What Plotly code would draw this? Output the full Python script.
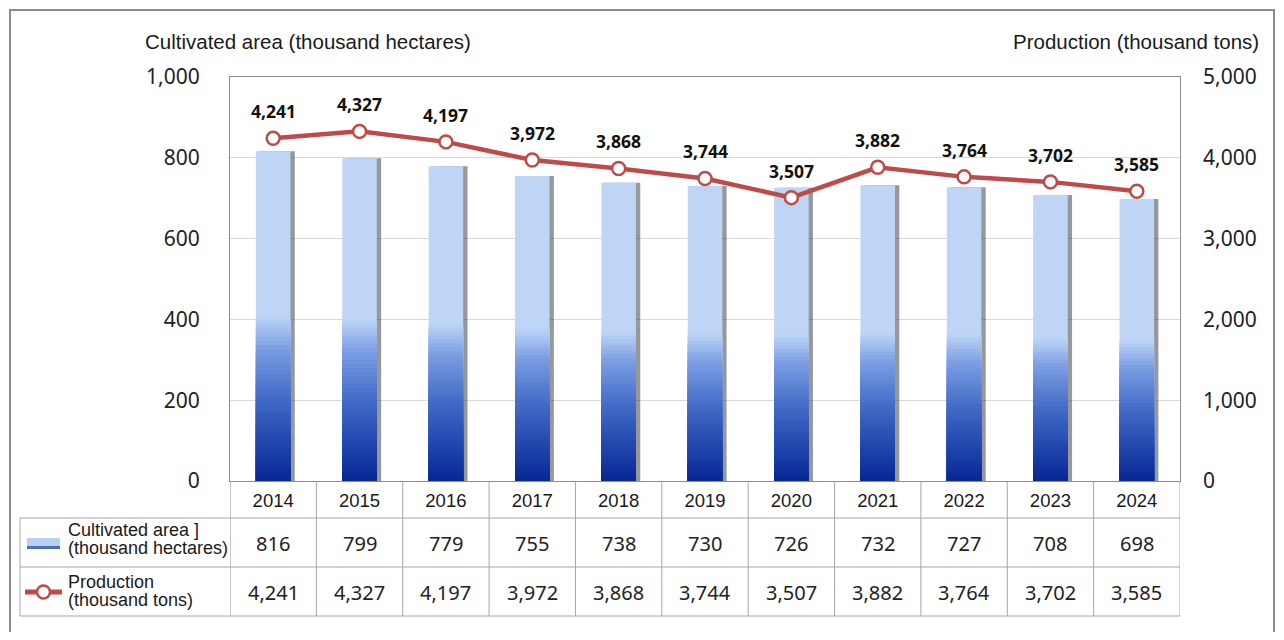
import plotly.graph_objects as go

# ---------------- data ----------------
years = ["2014", "2015", "2016", "2017", "2018", "2019", "2020", "2021", "2022", "2023", "2024"]
area = [816, 799, 779, 755, 738, 730, 726, 732, 727, 708, 698]              # thousand hectares
production = [4241, 4327, 4197, 3972, 3868, 3744, 3507, 3882, 3764, 3702, 3585]  # thousand tons
left_ticks = [0, 200, 400, 600, 800, 1000]
right_ticks = [0, 1000, 2000, 3000, 4000, 5000]
area_name = ["Cultivated area ]", "(thousand hectares)"]
prod_name = ["Production", "(thousand tons)"]
left_title = "Cultivated area (thousand hectares)"
right_title = "Production (thousand tons)"

# ---------------- layout geometry (page pixels) ----------------
OFF = 8                      # body margin of the written page
W, H = 1268, 624
L, R, T, B = 230, 1180, 77, 481


def px(x):
    return (x - L) / (R - L)


def py(y):
    return (B - y) / (B - T)


RED = "#be4b48"
GRID = "#d9d9d9"
FRAME = "#8c8c8c"
TABLE = "#a6a6a6"
NUMFONT = "Noto Sans"
TXTFONT = "Liberation Sans"

idx = list(range(len(years)))

fig = go.Figure()

BAR_W = 0.40
# soft shadow on the right of every bar
fig.add_trace(go.Bar(x=idx, y=area, width=BAR_W, offset=-BAR_W / 2 + 0.05,
                     marker=dict(color="rgba(50,50,50,0.5)", line_width=0),
                     hoverinfo="skip", showlegend=False))

# vertical gradient emulated with overlaid bars of decreasing height
stops = [(0.0, (8, 38, 148)), (0.1, (28, 66, 170)), (0.25, (66, 106, 198)),
         (0.4, (122, 157, 226)), (0.5, (190, 213, 246)), (1.0, (190, 213, 246))]


def col_at(f):
    for (f0, c0), (f1, c1) in zip(stops[:-1], stops[1:]):
        if f0 <= f <= f1:
            t = (f - f0) / (f1 - f0) if f1 > f0 else 0
            c = [round(a + (b - a) * t) for a, b in zip(c0, c1)]
            return "rgb(%d,%d,%d)" % tuple(c)
    return "rgb(190,213,246)"


N = 40
fracs = [1.0] + [0.5 * (N - k) / N for k in range(N)]
for f in fracs:
    fc = f if f == 1.0 else f - 0.25 / N
    fig.add_trace(go.Bar(x=idx, y=[v * f for v in area], width=BAR_W, offset=-BAR_W / 2,
                         marker=dict(color=col_at(fc), line_width=0),
                         hoverinfo="skip", showlegend=False))

# production line
fig.add_trace(go.Scatter(x=idx, y=production, yaxis="y2", mode="lines+markers",
                         line=dict(color=RED, width=4.5),
                         marker=dict(symbol="circle", size=13, color="white",
                                     line=dict(color=RED, width=2.5)),
                         showlegend=False, hoverinfo="skip"))

annotations = []
# data labels above line points
for i, v in zip(idx, production):
    annotations.append(dict(x=i, y=v, xref="x", yref="y2", text=f"{v:,}", showarrow=False,
                            yshift=27, yanchor="middle",
                            font=dict(family="Open Sans", size=17.5, color="#111111",
                                      weight="bold")))

# axis titles
annotations.append(dict(x=px(143), y=py(42), xref="paper", yref="paper", text=left_title,
                        showarrow=False, xanchor="left", yanchor="middle",
                        font=dict(family=TXTFONT, size=20.5, color="#1a1a1a")))
annotations.append(dict(x=px(1261), y=py(42), xref="paper", yref="paper", text=right_title,
                        showarrow=False, xanchor="right", yanchor="middle",
                        font=dict(family=TXTFONT, size=20.5, color="#1a1a1a")))

# data table values
ROW1, ROW2 = 543, 592
for i, a, p in zip(idx, area, production):
    annotations.append(dict(x=i, y=py(ROW1), xref="x", yref="paper", text=f"{a:,}",
                            showarrow=False, yanchor="middle",
                            font=dict(family=NUMFONT, size=20, color="#222222")))
    annotations.append(dict(x=i, y=py(ROW2), xref="x", yref="paper", text=f"{p:,}",
                            showarrow=False, yanchor="middle",
                            font=dict(family=NUMFONT, size=20, color="#222222")))

# legend labels in table
for txt, yy in [(area_name[0], 530), (area_name[1], 548), (prod_name[0], 582), (prod_name[1], 600)]:
    annotations.append(dict(x=px(66), y=py(yy), xref="paper", yref="paper", text=txt,
                            showarrow=False, xanchor="left", yanchor="middle",
                            font=dict(family=TXTFONT, size=18, color="#1a1a1a")))

shapes = []
# outer frame
shapes.append(dict(type="rect", xref="paper", yref="paper", x0=px(10), x1=px(1274),
                   y0=py(670), y1=py(10), line=dict(color=FRAME, width=2), fillcolor="rgba(0,0,0,0)"))
# table: vertical dividers
for i in range(len(years) + 1):
    shapes.append(dict(type="line", xref="x", yref="paper", x0=i - 0.5, x1=i - 0.5,
                       y0=py(481), y1=py(616),
                       line=dict(color=FRAME if i == 0 else TABLE, width=1)))
# table: horizontal lines
for yy in [518, 567, 616]:
    shapes.append(dict(type="line", xref="paper", yref="paper", x0=px(20), x1=1.0,
                       y0=py(yy), y1=py(yy), line=dict(color=TABLE, width=1)))
shapes.append(dict(type="line", xref="paper", yref="paper", x0=px(20), x1=px(20),
                   y0=py(518), y1=py(616), line=dict(color=TABLE, width=1)))
# legend keys
shapes.append(dict(type="rect", xref="paper", yref="paper", x0=px(27), x1=px(60),
                   y0=py(549), y1=py(538), line=dict(width=0), fillcolor="#b7cff1"))
shapes.append(dict(type="line", xref="paper", yref="paper", x0=px(27), x1=px(60),
                   y0=py(547.5), y1=py(547.5), line=dict(color="#4a6cbd", width=3)))
shapes.append(dict(type="line", xref="paper", yref="paper", x0=px(25), x1=px(62),
                   y0=py(592), y1=py(592), line=dict(color=RED, width=5)))
shapes.append(dict(type="circle", xref="paper", yref="paper", x0=px(37), x1=px(50),
                   y0=py(598.5), y1=py(585.5), line=dict(color=RED, width=2.5), fillcolor="white"))

fig.update_layout(
    width=W, height=H,
    margin=dict(l=L - OFF, r=W + OFF - R, t=T - OFF, b=H + OFF - B),
    paper_bgcolor="white", plot_bgcolor="white",
    barmode="overlay",
    showlegend=False,
    xaxis=dict(range=[-0.5, len(years) - 0.5], tickvals=idx, ticktext=years,
               showline=True, linecolor=FRAME, linewidth=1, mirror=True, ticks="",
               showgrid=False, zeroline=False,
               tickfont=dict(family=TXTFONT, size=18.5, color="#1a1a1a"), ticklabelstandoff=3),
    yaxis=dict(range=[0, 1000], tickvals=left_ticks, ticktext=[f"{v:,}" for v in left_ticks],
               showgrid=True, gridcolor=GRID, gridwidth=1, zeroline=False, showline=True,
               linecolor=FRAME, mirror=True, ticks="",
               tickfont=dict(family=NUMFONT, size=21, color="#222222"), ticklabelstandoff=25),
    yaxis2=dict(range=[0, 5000], tickvals=right_ticks, ticktext=[f"{v:,}" for v in right_ticks],
                overlaying="y", side="right", showgrid=False, zeroline=False, showline=False,
                ticks="", tickfont=dict(family=NUMFONT, size=21, color="#222222"),
                ticklabelstandoff=22),
    annotations=annotations,
    shapes=shapes,
)

fig.write_html("out.html")
